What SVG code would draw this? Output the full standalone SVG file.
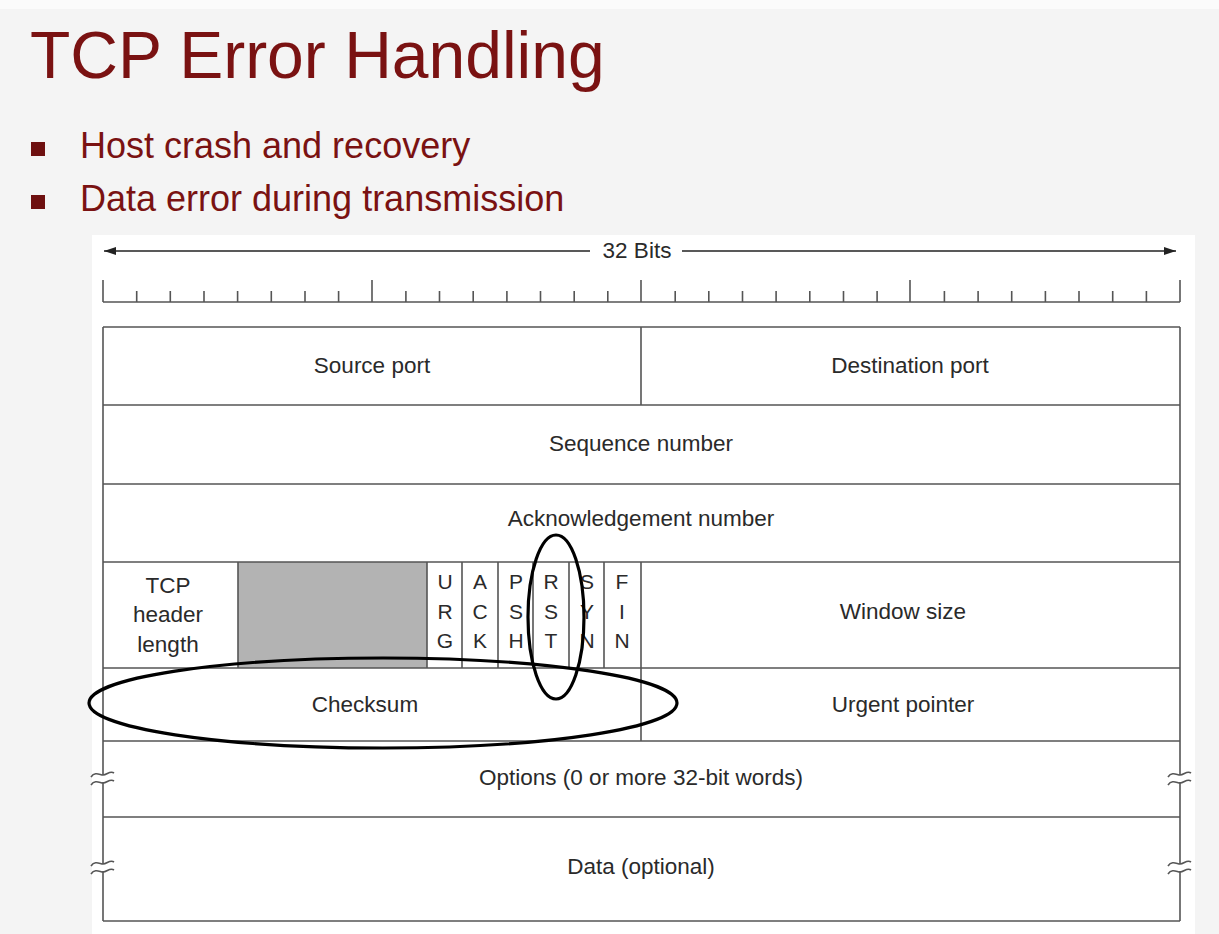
<svg xmlns="http://www.w3.org/2000/svg" width="1219" height="934" viewBox="0 0 1219 934">
<defs>
<style>
.t{font-family:"Liberation Sans",Arial,sans-serif;fill:#2a2a2a;font-size:22.5px;text-anchor:middle}
.f{font-family:"Liberation Sans",Arial,sans-serif;fill:#2a2a2a;font-size:21px;text-anchor:middle}
.ln{stroke:#555;stroke-width:1.6;fill:none}
.red{font-family:"Liberation Sans",Arial,sans-serif;fill:#7a1212}
.ell{fill:none;stroke:#000;stroke-width:3.2}
.brk{fill:none;stroke:#555;stroke-width:1.6}
</style>
<marker id="ah" viewBox="0 0 12 8" refX="12" refY="4" markerWidth="12" markerHeight="8" markerUnits="userSpaceOnUse" orient="auto">
<path d="M0,0 L12,4 L0,8 Z" fill="#222"/>
</marker>
</defs>
<rect x="0" y="0" width="1219" height="934" fill="#f4f4f4"/>
<rect x="0" y="0" width="1219" height="9" fill="#fbfbfb"/>
<rect x="92" y="235" width="1103" height="699" fill="#ffffff"/>

<g id="title">
<text class="red" x="30" y="78" font-size="66">TCP Error Handling</text>
</g>
<g id="bullets">
<rect x="31" y="142" width="14" height="14" fill="#6e1010"/>
<text class="red" x="80" y="158" font-size="36">Host crash and recovery</text>
<rect x="31" y="195" width="14" height="14" fill="#6e1010"/>
<text class="red" x="80" y="211" font-size="36">Data error during transmission</text>
</g>

<g id="connectors">
<line x1="590" y1="251" x2="104" y2="251" stroke="#222" stroke-width="1.6" marker-end="url(#ah)"/>
<line x1="682" y1="251" x2="1176" y2="251" stroke="#222" stroke-width="1.6" marker-end="url(#ah)"/>
</g>
<g id="bits-label">
<text class="t" x="637" y="258">32 Bits</text>
</g>

<g id="ruler">
<path class="ln" d="M103,302 H1180 M103,302 V280 M372,302 V280 M641,302 V280 M910,302 V280 M1180,302 V280
M136.7,302 V291 M170.3,302 V291 M204,302 V291 M237.6,302 V291 M271.3,302 V291 M305,302 V291 M338.6,302 V291
M405.9,302 V291 M439.5,302 V291 M473.2,302 V291 M506.9,302 V291 M540.5,302 V291 M574.2,302 V291 M607.8,302 V291
M675.2,302 V291 M708.8,302 V291 M742.5,302 V291 M776.1,302 V291 M809.8,302 V291 M843.5,302 V291 M877.1,302 V291
M944.4,302 V291 M978.1,302 V291 M1011.7,302 V291 M1045.4,302 V291 M1079,302 V291 M1112.7,302 V291 M1146.4,302 V291"/>
</g>

<g id="table">
<rect x="238" y="562" width="189" height="106" fill="#b3b3b3"/>
<path class="ln" d="M103,327 H1180 M103,405 H1180 M103,484 H1180 M103,562 H1180 M103,668 H1180 M103,741 H1180 M103,817 H1180 M103,921 H1180
M103,327 V921 M1180,327 V921 M641,327 V405 M641,562 V741
M238,562 V668 M427,562 V668 M462,562 V668 M498,562 V668 M533,562 V668 M569,562 V668 M604,562 V668"/>
</g>

<g id="breaks">
<g fill="#fff" stroke="none">
<rect x="95" y="775" width="16" height="7"/>
<rect x="95" y="864" width="16" height="7"/>
<rect x="1172" y="775" width="16" height="7"/>
<rect x="1172" y="864" width="16" height="7"/>
</g>
<path class="brk" d="M91,777 C95,771 100,775 103,775 C107,775 110,770 114,773 M91,785 C95,779 100,783 103,783 C107,783 110,778 114,781"/>
<path class="brk" d="M91,866 C95,860 100,864 103,864 C107,864 110,859 114,862 M91,874 C95,868 100,872 103,872 C107,872 110,867 114,870"/>
<path class="brk" d="M1168,777 C1172,771 1177,775 1180,775 C1184,775 1187,770 1191,773 M1168,785 C1172,779 1177,783 1180,783 C1184,783 1187,778 1191,781"/>
<path class="brk" d="M1168,866 C1172,860 1177,864 1180,864 C1184,864 1187,859 1191,862 M1168,874 C1172,868 1177,872 1180,872 C1184,872 1187,867 1191,870"/>
</g>

<g id="source-port"><text class="t" x="372" y="373">Source port</text></g>
<g id="destination-port"><text class="t" x="910" y="373">Destination port</text></g>
<g id="sequence-number"><text class="t" x="641" y="451">Sequence number</text></g>
<g id="ack-number"><text class="t" x="641" y="526">Acknowledgement number</text></g>
<g id="header-length">
<text class="t" x="168" y="593">TCP</text>
<text class="t" x="168" y="622">header</text>
<text class="t" x="168" y="652">length</text>
</g>
<g id="flags">
<text class="f" x="445" y="589">U</text><text class="f" x="445" y="619">R</text><text class="f" x="445" y="648">G</text>
<text class="f" x="480" y="589">A</text><text class="f" x="480" y="619">C</text><text class="f" x="480" y="648">K</text>
<text class="f" x="516" y="589">P</text><text class="f" x="516" y="619">S</text><text class="f" x="516" y="648">H</text>
<text class="f" x="551" y="589">R</text><text class="f" x="551" y="619">S</text><text class="f" x="551" y="648">T</text>
<text class="f" x="587" y="589">S</text><text class="f" x="587" y="619">Y</text><text class="f" x="587" y="648">N</text>
<text class="f" x="622" y="589">F</text><text class="f" x="622" y="619">I</text><text class="f" x="622" y="648">N</text>
</g>
<g id="window-size"><text class="t" x="903" y="619">Window size</text></g>
<g id="checksum"><text class="t" x="365" y="712">Checksum</text></g>
<g id="urgent-pointer"><text class="t" x="903" y="712">Urgent pointer</text></g>
<g id="options"><text class="t" x="641" y="785">Options (0 or more 32-bit words)</text></g>
<g id="data"><text class="t" x="641" y="874">Data (optional)</text></g>

<g id="highlights">
<ellipse class="ell" cx="556" cy="617" rx="28" ry="82"/>
<ellipse class="ell" cx="383" cy="703" rx="294" ry="45"/>
</g>
</svg>
